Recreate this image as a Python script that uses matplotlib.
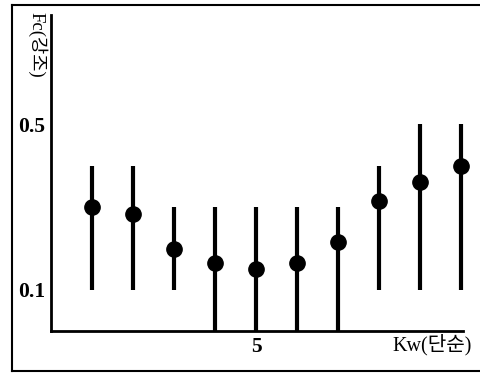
import matplotlib
matplotlib.use("Agg")
import matplotlib.pyplot as plt
from matplotlib.lines import Line2D
import numpy as np

plt.rcParams['font.family'] = ['Liberation Serif', 'Noto Sans CJK KR']

x = [1, 2, 3, 4, 5, 6, 7, 8, 9, 10]
fc = [0.30, 0.283, 0.198, 0.165, 0.149, 0.165, 0.214, 0.315, 0.361, 0.398]
lower = [0.1, 0.1, 0.1, 0.0, 0.0, 0.0, 0.0, 0.1, 0.1, 0.1]
upper = [0.4, 0.4, 0.3, 0.3, 0.3, 0.3, 0.3, 0.4, 0.5, 0.5]
yticks = [0.1, 0.5]
ytick_labels = ['0.1', '0.5']
xticks = [5]
xtick_labels = ['5']
xlabel = 'Kw(단순)'
ylabel = 'Fc(강조)'

W, H = 480, 374
fig = plt.figure(figsize=(W / 100, H / 100), dpi=100)
L, R, B, T = 51, 463, 331, 15
ax = fig.add_axes([L / W, 1 - B / H, (R - L) / W, (B - T) / H])

fc_a = np.array(fc)
yerr = [fc_a - np.array(lower), np.array(upper) - fc_a]
ax.errorbar(x, fc, yerr=yerr, fmt='o', color='black', ecolor='black',
            elinewidth=3, capsize=0, markersize=11, clip_on=False)

ax.set_xlim(0, 10.05)
ax.set_ylim(0, 0.764)
ax.set_yticks(yticks)
ax.set_yticklabels(ytick_labels, fontsize=15.5, fontweight='bold')
ax.set_xticks(xticks)
ax.set_xticklabels(xtick_labels, fontsize=15.5, fontweight='bold')
ax.tick_params(length=0, pad=4)
for s in ['top', 'right']:
    ax.spines[s].set_visible(False)
for s in ['left', 'bottom']:
    ax.spines[s].set_linewidth(2)

fig.text(472 / W, 1 - 345 / H, xlabel, ha='right', va='center', fontsize=14.5)
fig.text(37 / W, 1 - 12 / H, ylabel, ha='center', va='top', fontsize=13.5, rotation=270)

# outer frame (left, top, bottom)
lx = 12 / W
ty = 1 - 5 / H
by = 1 - 371 / H
fig.add_artist(Line2D([lx, lx], [by, ty], transform=fig.transFigure, color='black', lw=1.5))
fig.add_artist(Line2D([lx, 1.0], [ty, ty], transform=fig.transFigure, color='black', lw=1.5))
fig.add_artist(Line2D([lx, 1.0], [by, by], transform=fig.transFigure, color='black', lw=1.5))

fig.savefig('out.png', dpi=100)
